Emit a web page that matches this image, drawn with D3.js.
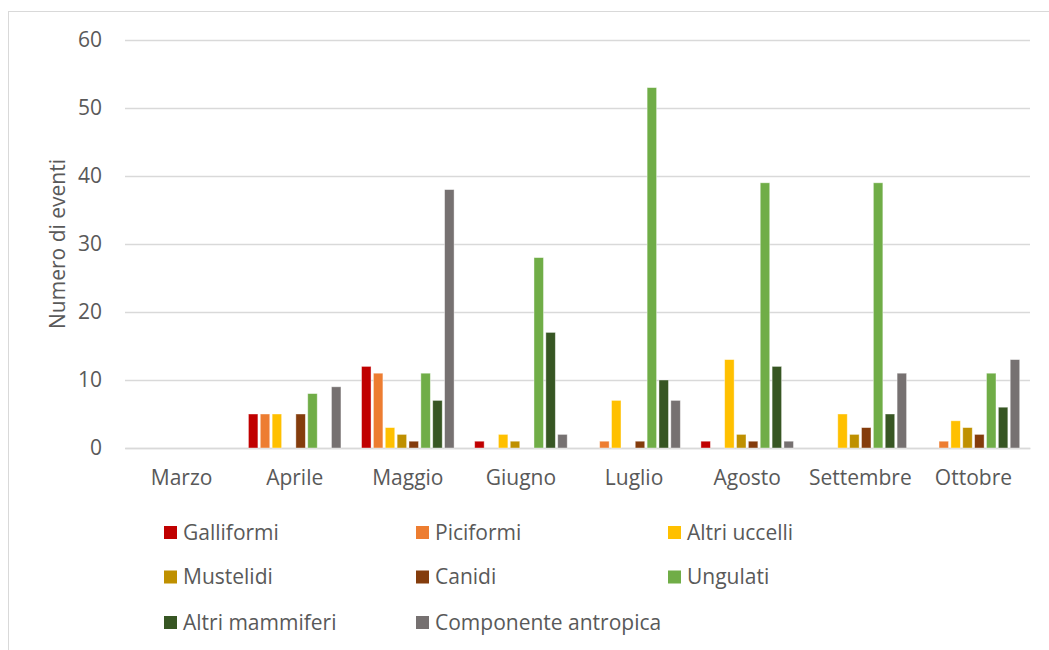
<!DOCTYPE html>
<html><head><meta charset="utf-8">
<script src="https://cdn.jsdelivr.net/npm/d3@7/dist/d3.min.js"></script>
<style>
html,body{margin:0;padding:0;background:#fff;}
svg{display:block;font-family:"Open Sans",sans-serif;}
</style></head>
<body>
<svg id="chart" width="1049" height="650"></svg>
<script>
const months = ["Marzo","Aprile","Maggio","Giugno","Luglio","Agosto","Settembre","Ottobre"];
const seriesNames = ["Galliformi","Piciformi","Altri uccelli","Mustelidi","Canidi","Ungulati","Altri mammiferi","Componente antropica"];
const seriesColors = ["#c00000","#ed7d31","#ffc000","#bf9000","#843c0c","#70ad47","#375623","#767171"];
const galliformi = [0,5,12,1,0,1,0,0];
const piciformi = [0,5,11,0,1,0,0,1];
const altriUccelli = [0,5,3,2,7,13,5,4];
const mustelidi = [0,0,2,1,0,2,2,3];
const canidi = [0,5,1,0,1,1,3,2];
const ungulati = [0,8,11,28,53,39,39,11];
const altriMammiferi = [0,0,7,17,10,12,5,6];
const antropica = [0,9,38,2,7,1,11,13];
const yTicks = [0,10,20,30,40,50,60];
const yLabel = "Numero di eventi";

const seriesValues = [galliformi,piciformi,altriUccelli,mustelidi,canidi,ungulati,altriMammiferi,antropica];

const svg = d3.select("#chart");
const plot = {left:125, right:1030, top:40, bottom:448};
const textColor = "#595959";
const gridColor = "#d9d9d9";
const fs = "21px";

// chart border
svg.append("rect").attr("x",8.5).attr("y",11.5).attr("width",1100).attr("height",700)
  .attr("fill","none").attr("stroke","#d9d9d9").attr("stroke-width",1);

const y = d3.scaleLinear().domain([0,60]).range([plot.bottom, plot.top]);
const x0 = d3.scaleBand().domain(months).range([plot.left, plot.right]).padding(0);
const clusterW = x0.bandwidth()*0.818;
const x1 = d3.scaleBand().domain(seriesNames)
  .range([(x0.bandwidth()-clusterW)/2, (x0.bandwidth()+clusterW)/2])
  .paddingInner(0.2).paddingOuter(0);

// gridlines
const yAxis = d3.axisLeft(y).tickValues(yTicks).tickSize(-(plot.right-plot.left)).tickPadding(23);
const gy = svg.append("g").attr("transform",`translate(${plot.left},0)`).call(yAxis);
gy.select(".domain").remove();
gy.selectAll(".tick line").attr("stroke",gridColor).attr("stroke-width",1.3);
gy.selectAll(".tick text").attr("fill",textColor).style("font-size",fs).style("font-family","'Open Sans',sans-serif");

// x axis
const xAxis = d3.axisBottom(x0).tickSize(0).tickPadding(22);
const gx = svg.append("g").attr("transform",`translate(0,${plot.bottom})`).call(xAxis);
gx.select(".domain").attr("stroke",gridColor).attr("stroke-width",1.3);
gx.selectAll(".tick text").attr("fill",textColor).style("font-size",fs).style("font-family","'Open Sans',sans-serif");

// bars
const groups = svg.append("g").selectAll("g").data(months).join("g")
  .attr("transform", m => `translate(${x0(m)},0)`);
groups.selectAll("rect")
  .data((m,i) => seriesNames.map((s,j) => ({s, j, v: seriesValues[j][i]})).filter(d => d.v > 0))
  .join("rect")
  .attr("x", d => x1(d.s))
  .attr("width", x1.bandwidth())
  .attr("y", d => y(d.v))
  .attr("height", d => y(0)-y(d.v))
  .attr("fill", d => seriesColors[d.j])
  .attr("stroke","#ffffff").attr("stroke-opacity",0.5).attr("stroke-width",0.8);

// y label
svg.append("text")
  .attr("transform",`translate(65,${(plot.top+plot.bottom)/2}) rotate(-90)`)
  .attr("text-anchor","middle").attr("fill",textColor)
  .style("font-size",fs).text(yLabel);

// legend
const legCols = [164,416,668];
const legRows = [532.5,577,622.5];
const leg = svg.append("g").selectAll("g").data(seriesNames).join("g")
  .attr("transform",(d,i)=>`translate(${legCols[i%3]},${legRows[Math.floor(i/3)]})`);
leg.append("rect").attr("x",0).attr("y",-6.5).attr("width",13).attr("height",13)
  .attr("fill",(d,i)=>seriesColors[i]);
leg.append("text").attr("x",19).attr("y",0).attr("dy","0.35em")
  .attr("fill",textColor).style("font-size",fs).text(d=>d);
</script>
</body></html>
